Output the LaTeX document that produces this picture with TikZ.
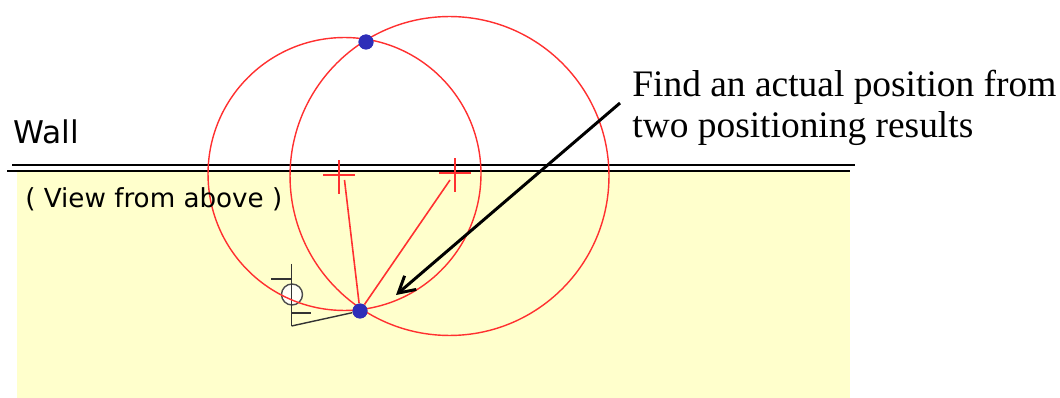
\documentclass[tikz,border=0pt]{standalone}
\usepackage{fontspec}
\usetikzlibrary{arrows.meta}
\setmainfont{Liberation Serif}
\newfontfamily\labelfont{DejaVu Sans}
\definecolor{wallyellow}{HTML}{FFFFCC}
\definecolor{rangered}{HTML}{FF3030}
\definecolor{dotblue}{HTML}{2E2EB8}

\begin{document}
\begin{tikzpicture}[x=0.02cm,y=-0.02cm,
    every node/.style={inner sep=0pt},
    rangecircle/.style={circle,draw=rangered,line width=0.8pt},
    bluedot/.style={circle,fill=dotblue,minimum size=0.3cm},
    wallline/.style={black,line width=0.7pt},
    redline/.style={rangered,line width=0.9pt},
    personline/.style={black!80,line width=0.8pt},
    serifnote/.style={anchor=base west,font=\fontsize{21.3}{24}\selectfont},
    sansnote/.style={anchor=base west,font=\labelfont\fontsize{14.9}{17}\selectfont}]
  \useasboundingbox (0,0) rectangle (1060,398);
  \fill[wallyellow] (17,171) rectangle (850,398);

  % wall
  \coordinate (w1) at (12,165);
  \coordinate (w2) at (855,165);
  \coordinate (w3) at (7,171);
  \coordinate (w4) at (850,171);
  \foreach \from/\to in {w1/w2,w3/w4}
    \draw[wallline] (\from) -- (\to);

  % person
  \coordinate (p1) at (291.5,264);
  \coordinate (p2) at (291.5,326);
  \coordinate (p3) at (271,279);
  \coordinate (p4) at (291.5,279);
  \coordinate (p5) at (291.5,313);
  \coordinate (p6) at (311,313);
  \node[circle,draw=black!70,fill=white,fill opacity=0.85,line width=0.8pt,minimum size=0.42cm] (head) at (292,294.5) {};
  \node[bluedot] (real) at (360,311) {};
  \node[bluedot] (ghost) at (366,42) {};
  \foreach \from/\to in {p1/p2,p3/p4,p5/p6,p2/real}
    \draw[personline] (\from) -- (\to);

  % ranges
  \node[rangecircle,minimum size=5.46cm] (range1) at (344.5,174) {};
  \node[rangecircle,minimum size=6.38cm] (range2) at (449.5,176) {};

  % sensors
  \coordinate (s1) at (339,175);
  \coordinate (s2) at (455,173);
  \foreach \c in {s1,s2}
    \draw[redline] ([xshift=-0.32cm]\c) -- ([xshift=0.32cm]\c)
      ([yshift=0.3cm]\c) -- ([yshift=-0.38cm]\c);

  \coordinate (r1) at (344.5,180);
  \coordinate (r2) at (450,180);
  \foreach \to in {r1,r2}
    \draw[redline] (real) -- (\to);
  \node[bluedot] at (real) {};
  \node[bluedot] at (ghost) {};

  % labels
  \node[sansnote,font=\labelfont\fontsize{17.8}{20}\selectfont] (wallname) at (13,144) {Wall};
  \node[sansnote] (view) at (25,208) {( View from above )};
  \node[serifnote] (note1) at (632,97) {Find an actual position from};
  \node[serifnote] (note2) at (632,138) {two positioning results};

  \coordinate (tail) at (620,103);
  \coordinate (tip) at (396,295);
  \draw[black,line width=1.7pt,-{Straight Barb[length=3.2mm,width=3.6mm]}] (tail) -- (tip);
\end{tikzpicture}
\end{document}
